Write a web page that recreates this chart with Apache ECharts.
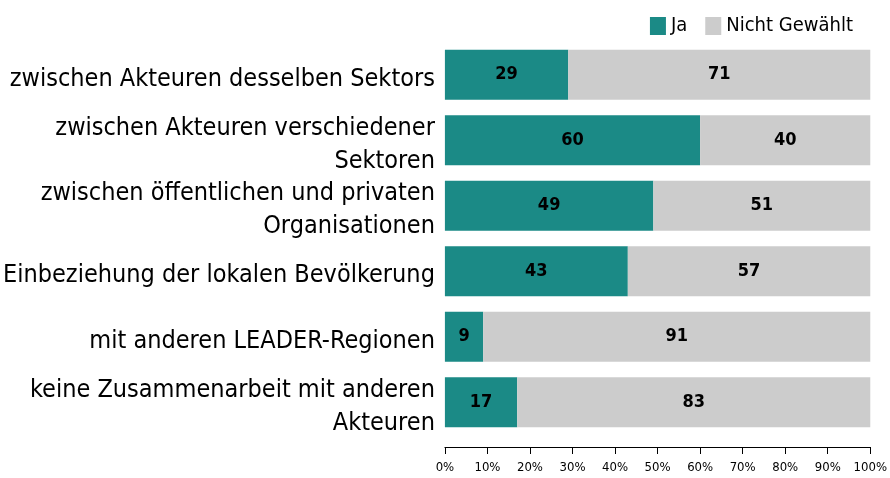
<!DOCTYPE html>
<html>
<head>
<meta charset="utf-8">
<script src="https://cdn.jsdelivr.net/npm/echarts@6/dist/echarts.min.js"></script>
<style>
html, body { margin: 0; padding: 0; background: #fff; }
#chart { width: 890px; height: 478px; }
</style>
</head>
<body>
<div id="chart"></div>
<script>
var categories = [
  'zwischen Akteuren desselben Sektors',
  'zwischen Akteuren verschiedener\nSektoren',
  'zwischen öffentlichen und privaten\nOrganisationen',
  'Einbeziehung der lokalen Bevölkerung',
  'mit anderen LEADER-Regionen',
  'keine Zusammenarbeit mit anderen\nAkteuren'
];
var jaValues = [29, 60, 49, 43, 9, 17];
var nichtValues = [71, 40, 51, 57, 91, 83];
var seriesNames = ['Ja', 'Nicht Gewählt'];

var font = "'Liberation Sans Narrow', 'DejaVu Sans Condensed', 'Roboto', sans-serif";
var colors = ['#1b8a86', '#cccccc'];

var chart = echarts.init(document.getElementById('chart'));
var option = {
  color: colors,
  animation: false,
  textStyle: { fontFamily: font },
  legend: {
    top: 11,
    right: 32,
    itemWidth: 16,
    itemHeight: 18,
    itemGap: 18,
    icon: 'rect',
    textStyle: { fontSize: 20, color: '#000', fontFamily: font },
    data: seriesNames
  },
  grid: {
    left: 443,
    right: 19,
    top: 42,
    bottom: 43
  },
  xAxis: {
    type: 'value',
    min: 0,
    max: 100,
    interval: 10,
    offset: 12,
    axisLine: { show: true, lineStyle: { color: '#000', width: 1 } },
    axisTick: { show: true, length: 7, lineStyle: { color: '#000' } },
    splitLine: { show: false },
    axisLabel: { formatter: '{value}%', fontSize: 13, color: '#000', margin: 14, fontFamily: font }
  },
  yAxis: {
    type: 'category',
    inverse: true,
    data: categories,
    axisLine: { show: false },
    axisTick: { show: false },
    axisLabel: {
      margin: 10,
      // leerer Abstandhalter oben, damit der Text etwas tiefer sitzt
      formatter: function (v) {
        return '{s| }\n' + v.split('\n').map(function (l) { return '{t|' + l + '}'; }).join('\n');
      },
      rich: {
        s: { fontSize: 4, lineHeight: 9 },
        t: { fontSize: 25, lineHeight: 33, color: '#000', fontFamily: font }
      }
    }
  },
  series: [
    {
      name: seriesNames[0],
      type: 'bar',
      stack: 'total',
      barWidth: 50,
      data: jaValues,
      label: { show: true, position: 'inside', color: '#000', fontSize: 18, fontWeight: 'bold', fontFamily: font }
    },
    {
      name: seriesNames[1],
      type: 'bar',
      stack: 'total',
      barWidth: 50,
      data: nichtValues,
      label: { show: true, position: 'inside', color: '#000', fontSize: 18, fontWeight: 'bold', fontFamily: font }
    }
  ]
};
chart.setOption(option);
</script>
</body>
</html>
